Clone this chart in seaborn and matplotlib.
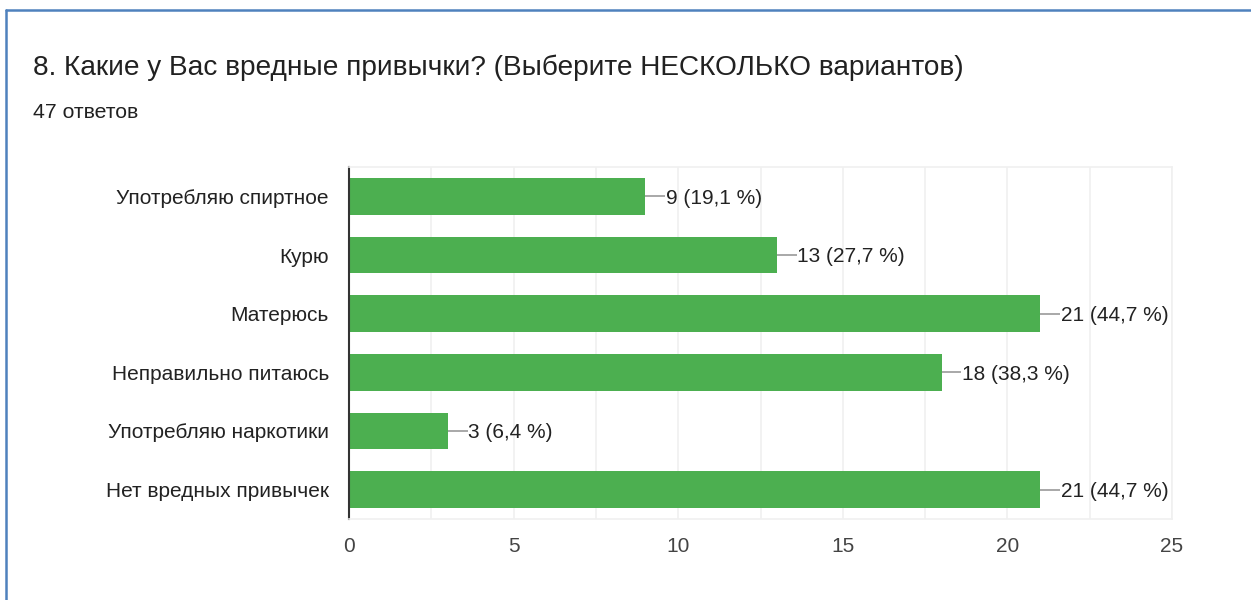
import matplotlib
matplotlib.use("Agg")
import matplotlib.pyplot as plt
import seaborn as sns
import pandas as pd
from matplotlib.lines import Line2D

categories = ["Употребляю спиртное", "Курю", "Матерюсь", "Неправильно питаюсь",
              "Употребляю наркотики", "Нет вредных привычек"]
counts = [9, 13, 21, 18, 3, 21]
percents = ["19,1", "27,7", "44,7", "38,3", "6,4", "44,7"]
title = "8. Какие у Вас вредные привычки? (Выберите НЕСКОЛЬКО вариантов)"
subtitle = "47 ответов"
x_ticks = [0, 5, 10, 15, 20, 25]

sns.set_theme(style="white")
plt.rcParams['font.family'] = ['Liberation Sans', 'DejaVu Sans']

df = pd.DataFrame({"cat": categories, "n": counts})

fig = plt.figure(figsize=(12.51, 6.0), dpi=100)
ax = fig.add_axes([349/1251, 1 - 519/600, (1172-349)/1251, (519-167)/600])

sns.barplot(data=df, y="cat", x="n", orient="h", color="#4caf50", saturation=1,
            width=0.62, ax=ax, edgecolor="none")

ax.set_xlim(0, 25)
ax.set_ylim(len(categories) - 0.5, -0.5)
ax.set_xticks(x_ticks)
ax.set_xticks([2.5, 7.5, 12.5, 17.5, 22.5], minor=True)
ax.grid(axis="x", which="both", color="#f0f0f0", linewidth=1.2)
ax.set_axisbelow(True)
ax.set_xlabel("")
ax.set_ylabel("")
for s in ["top", "right", "bottom"]:
    ax.spines[s].set_color("#f0f0f0")
    ax.spines[s].set_linewidth(1.2)
ax.spines["left"].set_color("#333333")
ax.spines["left"].set_linewidth(1.5)
ax.tick_params(axis="y", length=0, pad=14.5, labelsize=15, labelcolor="#222222")
ax.tick_params(axis="x", which="both", length=0, pad=13, labelsize=15, labelcolor="#444444")

for i, (n, p) in enumerate(zip(counts, percents)):
    ax.plot([n, n + 0.6], [i, i], color="#999999", linewidth=1.2, solid_capstyle="butt")
    ax.text(n + 0.62, i + 0.03, f"{n} ({p} %)", va="center", ha="left", fontsize=15, color="#222222")

fig.text(33/1251, 1 - 68/600, title, fontsize=20.2, color="#212121", va="center", ha="left")
fig.text(33/1251, 1 - 113/600, subtitle, fontsize=15.3, color="#212121", va="center", ha="left")

fig.add_artist(Line2D([5.5/1251, 1.0], [1 - 10/600, 1 - 10/600], transform=fig.transFigure,
                      color="#4f81bd", linewidth=1.8))
fig.add_artist(Line2D([5.5/1251, 5.5/1251], [0, 1 - 10/600], transform=fig.transFigure,
                      color="#4f81bd", linewidth=1.8))

fig.savefig("out.png", dpi=100, facecolor="white")
